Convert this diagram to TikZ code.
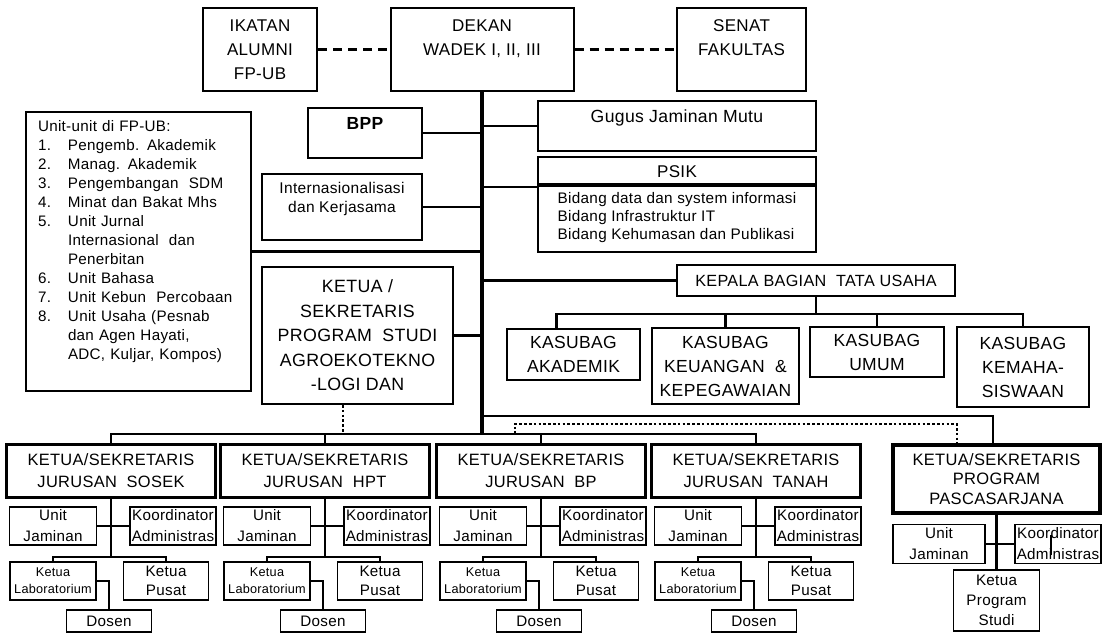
\documentclass[tikz,border=0pt]{standalone}
\usepackage{fontspec}
\setmainfont{Liberation Sans}[LetterSpace=2]
\usetikzlibrary{calc}

\begin{document}
\begin{tikzpicture}[x=1pt, y=-1pt,
                box/.style={draw, line width=2, inner sep=0, align=center, font=\fontsize{17}{24}\selectfont},
                kasubag/.style={draw, line width=2.2, inner sep=0, align=center, font=\fontsize{17.5}{24}\selectfont},
                dept/.style={draw, line width=3.2, inner sep=0, align=center, minimum width=209, minimum height=53, font=\fontsize{16.4}{22}\selectfont},
                small/.style={draw, line width=1.3, inner sep=0, align=center, minimum width=86, minimum height=38, font=\fontsize{15.2}{21}\selectfont},
                uj/.style={small, minimum width=87},
                lab/.style={small, font=\fontsize{12.7}{17}\selectfont},
                pusat/.style={small, minimum width=85, font=\fontsize{15.2}{19.5}\selectfont},
                dosen/.style={small, minimum width=85, minimum height=22},
                link/.style={line width=2.2},
                trunk/.style={line width=3.2},
                dotline/.style={line width=2.6, dash pattern=on 2.6pt off 2.2pt},
                dashline/.style={line width=2.2, dash pattern=on 9pt off 6pt}]

                \useasboundingbox (0,0) rectangle (1102,633);

                % Pimpinan
                \node[box, minimum width=183, minimum height=83] (dekan) at (482,49.5) {DEKAN\\WADEK I, II, III\\~};
                \node[box, minimum width=114, minimum height=83] (alumni) at (260,49.5) {IKATAN\\ALUMNI\\FP-UB};
                \node[box, minimum width=129, minimum height=83] (senat) at (741.5,49.5) {SENAT\\FAKULTAS\\~};
                \draw[dashline] (alumni) -- (dekan);
                \draw[dashline] (dekan) -- (senat);

                % Unit di bawah dekan
                \node[box, minimum width=114, minimum height=50, font=\fontsize{17.5}{19}\selectfont\bfseries] (bpp) at (365,133) {BPP\\~};
                \node[box, minimum width=160, minimum height=66, font=\fontsize{15.5}{19}\selectfont] (intl) at (342,207) {Internasionalisasi\\dan Kerjasama\\~};
                \node[box, minimum width=278, minimum height=50, font=\fontsize{17.6}{19}\selectfont] (gugus) at (677,126) {Gugus Jaminan Mutu\\~};
                \node[box, minimum width=278, minimum height=29] (psik) at (677,171.5) {PSIK};
                \node[box, minimum width=278, minimum height=68, align=left, font=\fontsize{15.3}{18}\selectfont] (psikbid) at (677,218)
                    {Bidang data dan system informasi\\Bidang Infrastruktur IT\\Bidang Kehumasan dan Publikasi};
                \node[box, minimum width=225, minimum height=279, align=left, text width=201, font=\fontsize{15.2}{19}\selectfont] (units) at (138.5,251.5)
                    {\begin{tabular}{@{}p{30pt}@{}l@{}}
                     \multicolumn{2}{@{}l@{}}{Unit-unit di FP-UB:}\\
                     1. & Pengemb. Akademik\\
                     2. & Manag. Akademik\\
                     3. & Pengembangan~~SDM\\
                     4. & Minat dan Bakat Mhs\\
                     5. & Unit Jurnal\\
                        & Internasional~~dan\\
                        & Penerbitan\\
                     6. & Unit Bahasa\\
                     7. & Unit Kebun~~Percobaan\\
                     8. & Unit Usaha (Pesnab\\
                        & dan Agen Hayati,\\
                        & ADC, Kuljar, Kompos)\\
                        & ~
                     \end{tabular}};
                \node[box, minimum width=191, minimum height=137, font=\fontsize{17.8}{24.5}\selectfont] (ketuaps) at (357.5,335.5)
                    {KETUA /\\SEKRETARIS\\PROGRAM~~STUDI\\AGROEKOTEKNO\\-LOGI DAN};

                % Tata usaha
                \node[box, minimum width=278, minimum height=31, font=\fontsize{16.2}{19}\selectfont] (kabag) at (816,280.5) {KEPALA BAGIAN~~TATA USAHA};
                \node[kasubag, minimum width=133, minimum height=51] (akademik) at (573.5,354.5) {KASUBAG\\AKADEMIK};
                \node[kasubag, minimum width=147, minimum height=76] (keuangan) at (725.5,366) {KASUBAG\\KEUANGAN~~\&\\KEPEGAWAIAN};
                \node[kasubag, minimum width=134, minimum height=50] (umum) at (877,352) {KASUBAG\\UMUM};
                \node[kasubag, minimum width=132, minimum height=80] (kemaha) at (1023,367) {KASUBAG\\KEMAHA-\\SISWAAN};

                % Garis komando
                \draw[trunk] (dekan.south) -- (dekan.south |- 0,434) coordinate (hub);
                \draw[link] (bpp.east) -- (bpp.east -| hub);
                \draw[link] (intl.east) -- (intl.east -| hub);
                \draw[link] (units.east) -- (units.east -| hub);
                \draw[link] (ketuaps.east) -- (ketuaps.east -| hub);
                \draw[link] (gugus.west) -- (gugus.west -| hub);
                \draw[link] (psik.south west) -- (psik.south west -| hub);
                \draw[link] (kabag.west) -- (kabag.west -| hub);
                \draw[link] (kabag.south) -- ++(0,17) coordinate (kbus);
                \draw[link] ($(akademik.north)+(-17,0)$) |- (kbus) -| (kemaha.north);
                \draw[link] (keuangan.north) -- (keuangan.north |- kbus);
                \draw[link] (umum.north) -- (umum.north |- kbus);

                % Jurusan dan pascasarjana
                \node[dept] (sosek) at (111,471) {KETUA/SEKRETARIS\\JURUSAN~~SOSEK};
                \node[dept] (hpt) at (325,471) {KETUA/SEKRETARIS\\JURUSAN~~HPT};
                \node[dept] (bp) at (541,471) {KETUA/SEKRETARIS\\JURUSAN~~BP};
                \node[dept] (tanah) at (756,471) {KETUA/SEKRETARIS\\JURUSAN~~TANAH};
                \node[dept, minimum width=207, minimum height=68, font=\fontsize{16.5}{19.5}\selectfont] (pasca) at (996.5,479)
                    {KETUA/SEKRETARIS\\PROGRAM\\PASCASARJANA};
                \draw[link] (sosek.north) |- (hub) -| (tanah.north);
                \draw[link] (hpt.north) -- (hpt.north |- hub);
                \draw[link] (bp.north) -- (bp.north |- hub);
                \draw[link] (hub |- 0,416) -| ($(pasca.north)+(-3.5,0)$);
                \draw[dotline] ($(hub)+(33,0)$) -- ++(0,-10) -| ($(pasca.north)+(-39.5,0)$);
                \draw[dotline] ($(ketuaps.south)+(-14.5,0)$) -- ($(ketuaps.south |- hub)+(-14.5,0)$);

                % SOSEK
                \node[uj] (sosek-uj) at (53,526) {Unit\\Jaminan};
                \node[small] (sosek-ko) at (173,526) {Koordinator\\Administras};
                \node[lab] (sosek-lab) at (53,581) {Ketua\\Laboratorium};
                \node[pusat] (sosek-pusat) at (166,581) {Ketua\\Pusat};
                \node[dosen] (sosek-dosen) at (109,621) {Dosen};
                \draw[link] (sosek.south) -- ++(0,58) coordinate (sosek-bus);
                \draw[link] (sosek-uj) -- (sosek-ko);
                \draw[link] (sosek-lab.north) |- (sosek-bus) -| (sosek-pusat.north);
                \draw[link] (sosek-lab.east) -| (sosek-dosen.north);

                % HPT
                \node[uj] (hpt-uj) at (267,526) {Unit\\Jaminan};
                \node[small] (hpt-ko) at (387,526) {Koordinator\\Administras};
                \node[lab] (hpt-lab) at (267,581) {Ketua\\Laboratorium};
                \node[pusat] (hpt-pusat) at (380,581) {Ketua\\Pusat};
                \node[dosen] (hpt-dosen) at (323,621) {Dosen};
                \draw[link] (hpt.south) -- ++(0,58) coordinate (hpt-bus);
                \draw[link] (hpt-uj) -- (hpt-ko);
                \draw[link] (hpt-lab.north) |- (hpt-bus) -| (hpt-pusat.north);
                \draw[link] (hpt-lab.east) -| (hpt-dosen.north);

                % BP
                \node[uj] (bp-uj) at (483,526) {Unit\\Jaminan};
                \node[small] (bp-ko) at (603,526) {Koordinator\\Administras};
                \node[lab] (bp-lab) at (483,581) {Ketua\\Laboratorium};
                \node[pusat] (bp-pusat) at (596,581) {Ketua\\Pusat};
                \node[dosen] (bp-dosen) at (539,621) {Dosen};
                \draw[link] (bp.south) -- ++(0,58) coordinate (bp-bus);
                \draw[link] (bp-uj) -- (bp-ko);
                \draw[link] (bp-lab.north) |- (bp-bus) -| (bp-pusat.north);
                \draw[link] (bp-lab.east) -| (bp-dosen.north);

                % TANAH
                \node[uj] (tanah-uj) at (698,526) {Unit\\Jaminan};
                \node[small] (tanah-ko) at (818,526) {Koordinator\\Administras};
                \node[lab] (tanah-lab) at (698,581) {Ketua\\Laboratorium};
                \node[pusat] (tanah-pusat) at (811,581) {Ketua\\Pusat};
                \node[dosen] (tanah-dosen) at (754,621) {Dosen};
                \draw[link] (tanah.south) -- ++(0,58) coordinate (tanah-bus);
                \draw[link] (tanah-uj) -- (tanah-ko);
                \draw[link] (tanah-lab.north) |- (tanah-bus) -| (tanah-pusat.north);
                \draw[link] (tanah-lab.east) -| (tanah-dosen.north);

                % PASCASARJANA
                \node[uj, minimum width=92, minimum height=39] (pasca-uj) at (939,544) {Unit\\Jaminan};
                \node[small, minimum height=39] (pasca-ko) at (1058,544) {Koordinator\\Administras};
                \node[pusat, minimum width=86, minimum height=61, font=\fontsize{15.2}{20}\selectfont] (pasca-kps) at (996.5,600.5) {Ketua\\Program\\Studi};
                \draw[link] (pasca.south) -- (pasca-kps.north);
                \draw[link] (pasca-uj) -- (pasca-ko);
                \draw[line width=1.5] (pasca-ko.center) ++(-7,-9) -- ++(0,20);
            \end{tikzpicture}
\end{document}
